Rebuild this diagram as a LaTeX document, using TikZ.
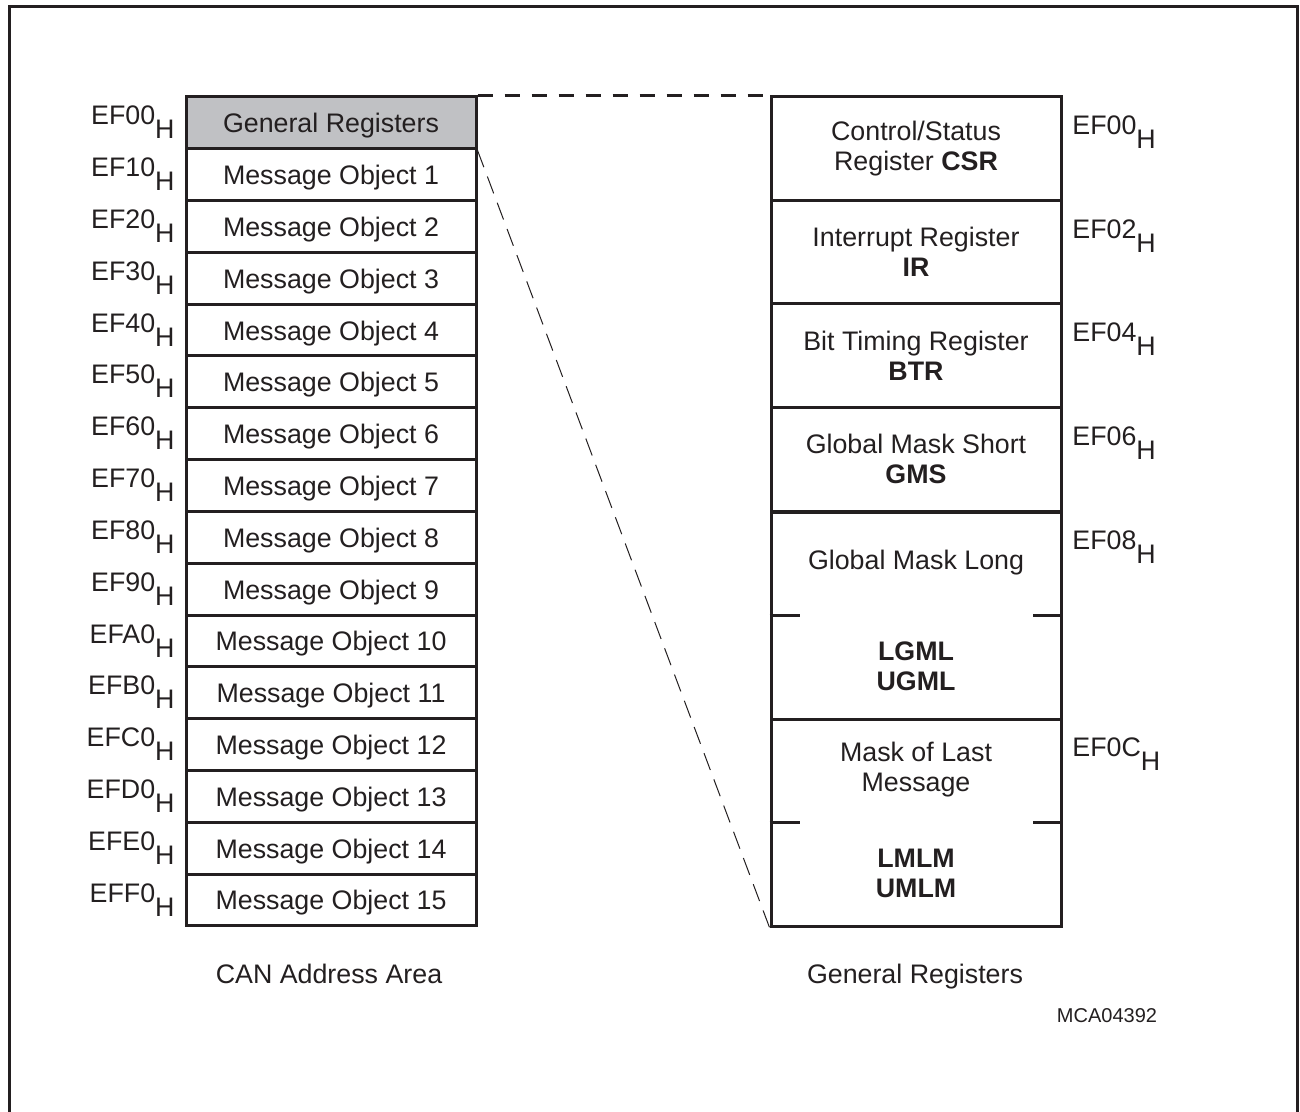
\documentclass[tikz,border=0pt]{standalone}
\usepackage{fontspec}
\setmainfont{Liberation Sans}
\definecolor{ink}{RGB}{35,31,32}
\definecolor{grfill}{RGB}{192,193,196}
\newcommand{\addr}[1]{#1\raisebox{-7pt}{H}}
\begin{document}
\begin{tikzpicture}[x=0.5pt,y=-0.5pt,
  every node/.style={text=ink, font=\fontsize{13.4}{15}\selectfont, inner sep=0pt},
  leftbox/.style={draw=ink, line width=1.5pt, minimum width=145pt, minimum height=25.9pt, text height=10pt, text depth=0pt},
  rightbox/.style={draw=ink, line width=1.5pt, minimum width=145pt, minimum height=51.75pt, align=center},
  splitbox/.style={draw=ink, line width=1.5pt, minimum width=145pt, minimum height=103.5pt},
  laddr/.style={anchor=base east},
  raddr/.style={anchor=base west},
  tick/.style={draw=ink, line width=1.5pt},
  caption/.style={anchor=base}]
\useasboundingbox (0,0) rectangle (1300,1112);
\draw[ink, line width=1.5pt] (9,1120) -- (9,7) -- (1297,7) -- (1297,1120);

% left column
\node[leftbox, fill=grfill] (gr) at (331,122.9) {General Registers};
\foreach \i/\a in {1/EF10,2/EF20,3/EF30,4/EF40,5/EF50,6/EF60,7/EF70,8/EF80,9/EF90,10/EFA0,11/EFB0,12/EFC0,13/EFD0,14/EFE0,15/EFF0}{
  \node[leftbox] (mo\i) at (331,{97+51.8*(\i+0.5)}) {Message Object \i};
  \node[laddr] (la\i) at (175,{97+51.8*\i+28}) {\addr{\a}};
}
\node[laddr] (la0) at (175,125) {\addr{EF00}};

% right column
\node[rightbox] (csr) at (916,148.75) {Control/Status\\Register \textbf{CSR}};
\node[rightbox] (ir) at (916,252.25) {Interrupt Register\\\textbf{IR}};
\node[rightbox] (btr) at (916,355.75) {Bit Timing Register\\\textbf{BTR}};
\node[rightbox] (gms) at (916,459.25) {Global Mask Short\\\textbf{GMS}};
\node[splitbox] (gml) at (916,615.5) {};
\node[splitbox] (mlm) at (916,822.5) {};
\node (gmlt) at (916,563) {Global Mask Long};
\node[align=center] (gmlb) at (916,666) {\textbf{LGML}\\\textbf{UGML}};
\node[align=center] (mlmt) at (916,770) {Mask of Last\\Message};
\node[align=center] (mlmb) at (916,873) {\textbf{LMLM}\\\textbf{UMLM}};
\draw[tick] (gml.west) -- ++(30,0);
\draw[tick] (gml.east) -- ++(-30,0);
\draw[tick] (mlm.west) -- ++(30,0);
\draw[tick] (mlm.east) -- ++(-30,0);

\node[raddr] (ra0) at (1072,135) {\addr{EF00}};
\node[raddr] (ra1) at (1072,238.5) {\addr{EF02}};
\node[raddr] (ra2) at (1072,342) {\addr{EF04}};
\node[raddr] (ra3) at (1072,445.5) {\addr{EF06}};
\node[raddr] (ra4) at (1072,549) {\addr{EF08}};
\node[raddr] (ra5) at (1072,756) {\addr{EF0C}};

% connectors
\draw[ink, line width=1.3pt, dash pattern=on 7.5pt off 6pt] (gr.north east) -- (csr.north west);
\draw[ink, line width=0.5pt, dash pattern=on 9pt off 5pt] (gr.south east) -- (mlm.south west);

% captions
\node[caption] (cap1) at (329,983) {CAN Address Area};
\node[caption] (cap2) at (915,983) {General Registers};
\node[caption, font=\fontsize{10}{12}\selectfont] (cap3) at (1107,1022) {MCA04392};
\end{tikzpicture}
\end{document}
